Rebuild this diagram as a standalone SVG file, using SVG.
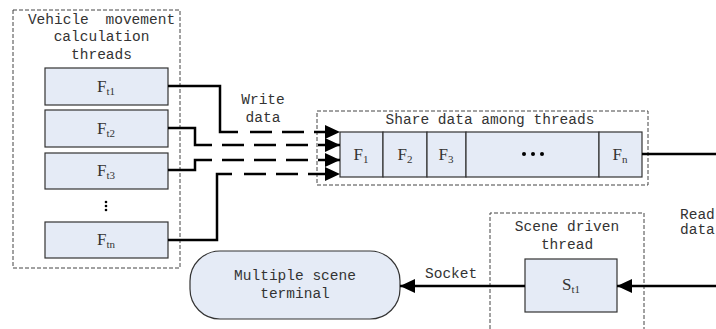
<svg xmlns="http://www.w3.org/2000/svg" width="716" height="329" viewBox="0 0 716 329">
  <style>
    .group { fill: none; stroke: #444; stroke-width: 1; stroke-dasharray: 4 2; }
    .cell { fill: #e5ebf6; stroke: #333; stroke-width: 1.2; }
    .lbl { font-family: "Liberation Mono", "DejaVu Sans Mono", monospace; font-size: 14.5px; fill: #333; text-anchor: middle; }
    .lbl-start { font-family: "Liberation Mono", "DejaVu Sans Mono", monospace; font-size: 14.5px; fill: #333; }
    .math { font-family: "Liberation Serif", "DejaVu Serif", serif; font-size: 17px; fill: #333; text-anchor: middle; }
    .sub { font-size: 11px; }
    .wire { fill: none; stroke: #000; stroke-width: 2.5; }
    .dash { fill: none; stroke: #000; stroke-width: 2.5; stroke-dasharray: 22 10; }
  </style>
  <defs>
    <marker id="arrow" markerWidth="15" markerHeight="14" refX="15" refY="7" orient="auto" markerUnits="userSpaceOnUse">
      <path d="M0,0 L15,7 L0,14 Z" fill="#000"/>
    </marker>
  </defs>

  <!-- Vehicle movement calculation threads -->
  <g id="calc-threads">
    <rect class="group" x="13" y="10" width="167" height="258"/>
    <text class="lbl" x="101.5" y="24" word-spacing="8">Vehicle movement</text>
    <text class="lbl" x="101.5" y="41">calculation</text>
    <text class="lbl" x="101.5" y="59">threads</text>
  </g>
  <g id="ft1">
    <rect class="cell" x="45" y="68" width="123" height="37"/>
    <text class="math" x="106" y="92">F<tspan class="sub" dy="3">t1</tspan></text>
  </g>
  <g id="ft2">
    <rect class="cell" x="45" y="110" width="123" height="37"/>
    <text class="math" x="106" y="134">F<tspan class="sub" dy="3">t2</tspan></text>
  </g>
  <g id="ft3">
    <rect class="cell" x="45" y="153" width="123" height="36"/>
    <text class="math" x="106" y="176">F<tspan class="sub" dy="3">t3</tspan></text>
  </g>
  <g id="ft-dots">
    <circle cx="106" cy="202" r="1.3" fill="#000"/>
    <circle cx="106" cy="206" r="1.3" fill="#000"/>
    <circle cx="106" cy="210" r="1.3" fill="#000"/>
  </g>
  <g id="ftn">
    <rect class="cell" x="45" y="222" width="123" height="36"/>
    <text class="math" x="106" y="245">F<tspan class="sub" dy="3">tn</tspan></text>
  </g>

  <!-- Shared data buffer -->
  <g id="share-data">
    <rect class="group" x="317" y="111" width="331" height="74"/>
    <text class="lbl" x="490" y="124">Share data among threads</text>
  </g>
  <g id="f1">
    <rect class="cell" x="340" y="132" width="43" height="45"/>
    <text class="math" x="361" y="160">F<tspan class="sub" dy="3">1</tspan></text>
  </g>
  <g id="f2">
    <rect class="cell" x="383" y="132" width="44" height="45"/>
    <text class="math" x="405" y="160">F<tspan class="sub" dy="3">2</tspan></text>
  </g>
  <g id="f3">
    <rect class="cell" x="427" y="132" width="39" height="45"/>
    <text class="math" x="446" y="160">F<tspan class="sub" dy="3">3</tspan></text>
  </g>
  <g id="f-dots">
    <rect class="cell" x="466" y="132" width="133" height="45"/>
    <circle cx="524" cy="154" r="2" fill="#000"/>
    <circle cx="533" cy="154" r="2" fill="#000"/>
    <circle cx="542" cy="154" r="2" fill="#000"/>
  </g>
  <g id="fn">
    <rect class="cell" x="599" y="132" width="43" height="45"/>
    <text class="math" x="620" y="160">F<tspan class="sub" dy="3">n</tspan></text>
  </g>

  <!-- Scene driven thread -->
  <g id="scene-thread">
    <path class="group" d="M490,329 V213 H644 V329"/>
    <text class="lbl" x="567" y="231">Scene driven</text>
    <text class="lbl" x="567" y="249">thread</text>
  </g>
  <g id="st1">
    <rect class="cell" x="525" y="259" width="92" height="53"/>
    <text class="math" x="571" y="290">S<tspan class="sub" dy="3">t1</tspan></text>
  </g>

  <!-- Terminal -->
  <g id="terminal">
    <rect class="cell" x="190" y="251" width="210" height="68" rx="30" ry="30"/>
    <text class="lbl" x="295" y="280">Multiple scene</text>
    <text class="lbl" x="295" y="298">terminal</text>
  </g>

  <!-- Connectors -->
  <g id="connectors">
    <path class="wire" d="M168,86 H220 V132 H238"/>
    <path class="dash" d="M250,132 H340" marker-end="url(#arrow)"/>
    <path class="wire" d="M168,128 H195 V145 H212"/>
    <path class="dash" d="M222,145 H340" marker-end="url(#arrow)"/>
    <path class="wire" d="M168,170 H195 V160 H212"/>
    <path class="dash" d="M222,160 H340" marker-end="url(#arrow)"/>
    <path class="wire" d="M168,240 H217 V174 H232"/>
    <path class="dash" d="M244,174 H340" marker-end="url(#arrow)"/>
    <text class="lbl" x="263" y="104">Write</text>
    <text class="lbl" x="263" y="122">data</text>

    <path class="wire" d="M642,154 H716"/>

    <path class="wire" d="M716,286 H617" marker-end="url(#arrow)"/>
    <text class="lbl-start" x="680" y="219">Read</text>
    <text class="lbl-start" x="680" y="234">data</text>

    <path class="wire" d="M525,286 H400" marker-end="url(#arrow)"/>
    <text class="lbl-start" x="425" y="278">Socket</text>
  </g>
</svg>
